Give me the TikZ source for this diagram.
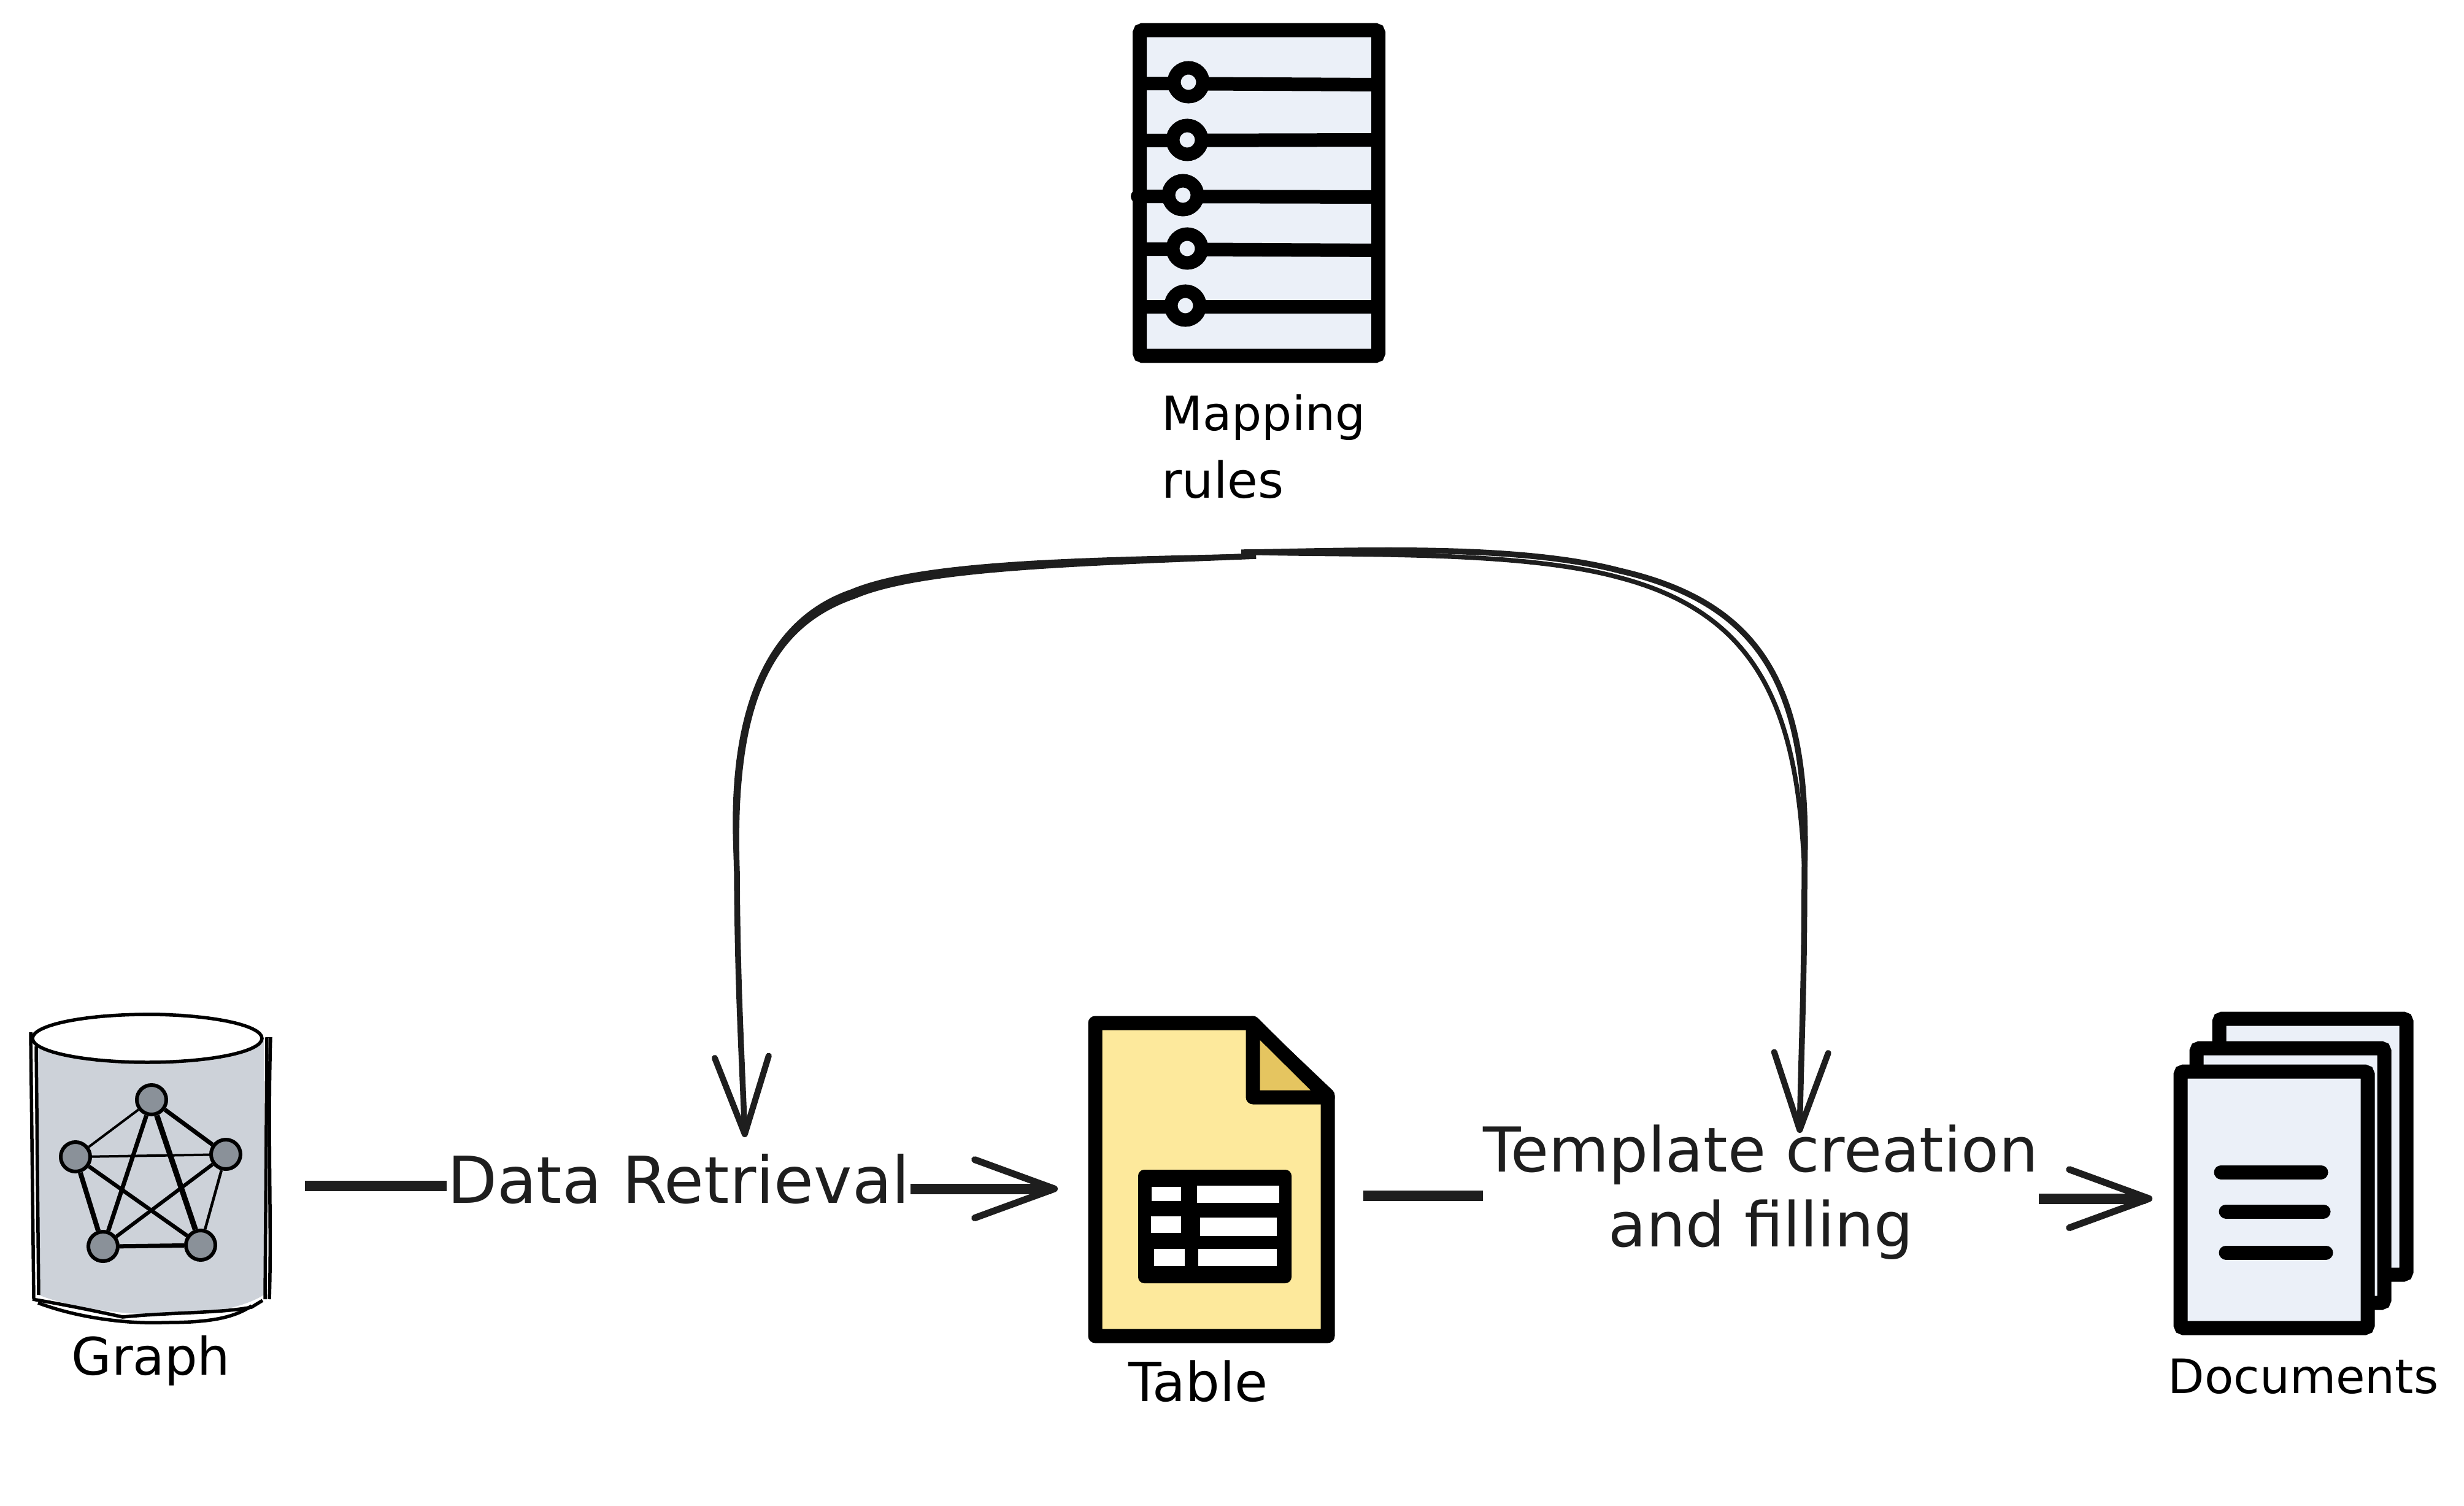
\documentclass[tikz,border=0pt]{standalone}
\usepackage{fontspec}
\setmainfont{DejaVu Sans}
\usetikzlibrary{arrows.meta,shapes.geometric}
\definecolor{sheetblue}{HTML}{EBF0F8}
\definecolor{pageyellow}{HTML}{FDE99C}
\definecolor{foldyellow}{HTML}{E5C560}
\definecolor{drumgrey}{HTML}{CDD2D9}
\definecolor{knobgrey}{HTML}{8A9199}
\definecolor{inkgrey}{HTML}{1E1E1E}
\tikzset{
	iconbox/.style={rectangle, draw=black, fill=sheetblue, line width=0.23cm, rounded corners=0.05cm},
	iconline/.style={draw=black, line width=0.23cm, line join=round},
	iconbar/.style={draw=black, line width=0.22cm, line cap=round},
	knob/.style={circle, draw=black, fill=sheetblue, line width=0.22cm, minimum size=0.47cm},
	drumline/.style={draw=black, line width=0.055cm},
	gnode/.style={circle, draw=black, fill=knobgrey, line width=0.06cm, minimum size=0.48cm},
	gedge/.style={draw=black, line width=#1},
	flowstub/.style={draw=inkgrey, line width=0.17cm},
	flowarrow/.style={draw=inkgrey, line width=0.17cm, -{Straight Barb[length=1.3cm,width=0.95cm,line width=0.11cm,round]}},
	swoop/.style={draw=inkgrey, line width=0.075cm},
	swooparrow/.style={draw=inkgrey, line width=0.095cm, -{Straight Barb[length=1.26cm,width=0.88cm,line width=0.1cm,round]}},
	flowlabel/.style={text=inkgrey, align=center, font=\fontsize{#1}{34.7}\selectfont},
	iconlabel/.style={text=black, font=\fontsize{#1}{31.3}\selectfont}
}
\begin{document}
\begin{tikzpicture}[scale=0.1]
	\tikzstyle{every node}+=[inner sep=0pt]
	\useasboundingbox (0,0) rectangle (401.6,-245.4);
	\node [iconbox, minimum width=3.89cm, minimum height=5.31cm] (rules) at (205.2,-31.45) {};
	\draw [iconbar] (186.5,-13.6) -- (224.6,-13.8);
	\draw [iconbar] (186.5,-22.9) -- (224.6,-22.8);
	\draw [iconbar] (185.4,-32) -- (224.6,-32.1);
	\draw [iconbar] (186.5,-40.6) -- (224.6,-40.8);
	\draw [iconbar] (185.7,-50) -- (224.6,-50);
	\node [knob] (knoba) at (193.7,-13.4) {};
	\node [knob] (knobb) at (193.5,-22.8) {};
	\node [knob] (knobc) at (192.8,-31.8) {};
	\node [knob] (knobd) at (193.5,-40.5) {};
	\node [knob] (knobe) at (193.2,-49.8) {};
	\draw (189.3,-70.2) node [iconlabel=22, anchor=base west] (mapping) {Mapping};
	\draw (189.3,-81.2) node [iconlabel=23, anchor=base west] (mappingb) {rules};
	\coordinate (splitl) at (204.7,-90.6);
	\coordinate (splitr) at (202.3,-90);
	\coordinate (datain) at (121.4,-185.3);
	\coordinate (fillin) at (293.3,-184.6);
	\draw [swooparrow] (splitl) .. controls (175,-91.8) and (150,-92.5) .. (139.2,-97.1) .. controls (125,-102) and (119.2,-115) .. (120.1,-142) .. controls (120.2,-160) and (120.8,-170) .. (datain);
	\draw [swoop] (splitl) .. controls (175,-91.2) and (150,-91.7) .. (138.8,-96.4) .. controls (124,-101.5) and (118.4,-118) .. (120.1,-142);
	\draw [swooparrow] (splitr) .. controls (220,-89.8) and (247,-88.5) .. (264,-93) .. controls (288,-98.5) and (295,-113) .. (294.1,-142) .. controls (294.1,-160) and (293.6,-170) .. (fillin);
	\draw [swoop] (splitr) .. controls (220,-90.6) and (247,-89.6) .. (263.5,-94) .. controls (287,-100) and (293,-116) .. (294.1,-142);
	\draw [black, fill=drumgrey, draw=none] (6.1,-169.2) -- (6.3,-211) .. controls (15,-214.5) and (35,-216) .. (43,-211) -- (43,-169.2) .. controls (35,-163.5) and (15,-163.5) .. (6.1,-169.2);
	\node [ellipse, drumline, fill=white, minimum width=3.74cm, minimum height=0.78cm] (graph) at (24,-169.2) {};
	\draw [drumline] (5,-168.2) -- (5.5,-211.6);
	\draw [drumline] (5.9,-170.5) -- (6.3,-211);
	\draw [drumline] (43.5,-169) -- (43.2,-211.7);
	\draw [drumline] (44.1,-169) .. controls (43.6,-185) and (44.3,-200) .. (43.9,-211.7);
	\draw [drumline] (5.3,-211.7) .. controls (10,-212.5) and (15,-213.5) .. (20,-214.6) .. controls (28,-213.8) and (36,-214) .. (41,-213) -- (42.8,-211.9);
	\draw [drumline] (6.2,-212.3) .. controls (12,-214.5) and (20,-215.8) .. (27,-215.5) .. controls (34,-215.5) and (38,-214.8) .. (41,-212.8);
	\node [gnode] (gtop) at (24.7,-179.2) {};
	\node [gnode] (gleft) at (12.3,-188.5) {};
	\node [gnode] (gright) at (36.8,-188.1) {};
	\node [gnode] (gbl) at (16.8,-203.1) {};
	\node [gnode] (gbr) at (32.7,-202.9) {};
	\draw [gedge=0.04cm] (gtop) -- (gleft);
	\draw [gedge=0.07cm] (gtop) -- (gright);
	\draw [gedge=0.04cm] (gleft) -- (gright);
	\draw [gedge=0.07cm] (gtop) -- (gbl);
	\draw [gedge=0.09cm] (gtop) -- (gbr);
	\draw [gedge=0.08cm] (gleft) -- (gbl);
	\draw [gedge=0.045cm] (gright) -- (gbr);
	\draw [gedge=0.07cm] (gbl) -- (gbr);
	\draw [gedge=0.065cm] (gleft) -- (gbr);
	\draw [gedge=0.06cm] (gright) -- (gbl);
	\draw (24.6,-224) node [iconlabel=24, anchor=base] (graphlabel) {Graph};
	\coordinate (graphout) at (49.7,-193.2);
	\coordinate (tablein) at (172.4,-193.7);
	\draw (110.6,-196) node [flowlabel=30, anchor=base] (retrieval) {Data Retrieval};
	\draw [flowstub] (graphout) -- (retrieval.west |- graphout);
	\draw [flowarrow] (retrieval.east |- tablein) -- (tablein);
	\draw [iconline, fill=pageyellow] (178.5,-166.7) -- (204,-166.7) -- (216.4,-178.5) -- (216.4,-217.7) -- (178.5,-217.7) -- cycle;
	\draw [iconline, fill=foldyellow] (204.2,-166.7) -- (204.2,-178.8) -- (216.4,-178.8) -- cycle;
	\node [rectangle, fill=black, rounded corners=0.1cm, minimum width=2.5cm, minimum height=1.85cm] (sheet) at (198,-199.85) {};
	\fill [white] (187.7,-193.4) rectangle (192.5,-195.7);
	\fill [white] (195.1,-193.2) rectangle (208.5,-196);
	\fill [white] (187.6,-198.2) rectangle (192.5,-200.9);
	\fill [white] (195.6,-198.4) rectangle (208.1,-201.4);
	\fill [white] (188.1,-203.5) rectangle (193.1,-206.3);
	\fill [white] (195.3,-203.5) rectangle (208.1,-206.3);
	\draw (195.3,-228.3) node [iconlabel=25, anchor=base] (tablelabel) {Table};
	\coordinate (tableout) at (222.2,-194.8);
	\coordinate (docsin) at (350.8,-195.3);
	\draw (287,-194.3) node [flowlabel=28.7] (templating) {Template creation\\and filling};
	\draw [flowstub] (tableout) -- (templating.west |- tableout);
	\draw [flowarrow] (templating.east |- docsin) -- (docsin);
	\node [iconbox, minimum width=3.05cm, minimum height=4.17cm] (docc) at (376.95,-186.85) {};
	\node [iconbox, minimum width=3.06cm, minimum height=4.15cm] (docb) at (373.3,-191.55) {};
	\node [iconbox, minimum width=3.05cm, minimum height=4.18cm] (doca) at (370.65,-195.5) {};
	\draw [iconline, line cap=round] (362,-191) -- (378.3,-191);
	\draw [iconline, line cap=round] (362.8,-197.4) -- (378.7,-197.4);
	\draw [iconline, line cap=round] (362.8,-204.1) -- (379.1,-204.1);
	\draw (375.4,-227) node [iconlabel=22, anchor=base] (doclabel) {Documents};
\end{tikzpicture}
\end{document}
